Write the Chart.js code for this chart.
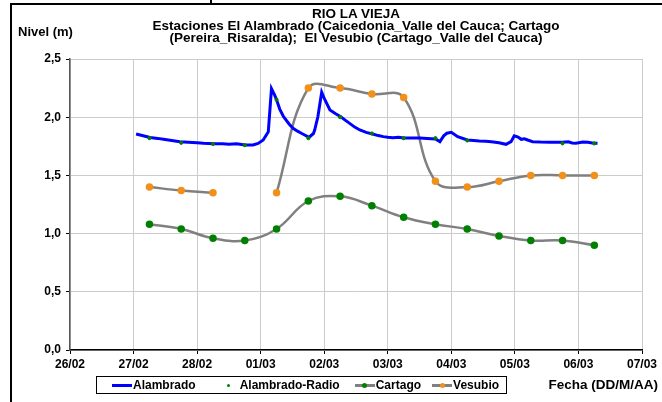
<!DOCTYPE html>
<html lang="es">

<head>
  <meta charset="UTF-8">
  <title>Rio La Vieja - Niveles</title>
  <script src="https://cdn.jsdelivr.net/npm/chart.js"></script>
  <style>
    body { margin: 0; background: #fff; }
    #wrap {
      position: relative; width: 662px; height: 402px; overflow: hidden;
      font-family: "Liberation Sans", Arial, sans-serif; font-weight: bold; color: #000;
    }
    #chart { position: absolute; left: 0; top: 0; }
    /* outer frame (only top and left edges visible) */
    #frame { position: absolute; left: 10px; top: 3px; width: 700px; height: 450px; border-top: 2px solid #000; border-left: 2px solid #000; }
    #notch { position: absolute; left: 210px; top: 0; width: 2px; height: 4px; background: #000; }
    #title { position: absolute; left: 106px; width: 500px; top: 8px; text-align: center; font-size: 13.5px; line-height: 12px; }
    #ytitle { position: absolute; left: 18px; top: 24px; font-size: 13px; }
    #xtitle { position: absolute; right: 4px; top: 377px; font-size: 13.5px; }
    #legend {
      position: absolute; left: 96px; top: 376px; width: 409px; height: 16px;
      border: 1px solid #000; display: flex; align-items: center; font-size: 12px;
    }
    .item { display: flex; align-items: center; }
    .swatch { position: relative; width: 22px; height: 10px; }
    .swatch .ln { position: absolute; left: 1px; right: 1px; top: 4px; height: 3px; }
    .swatch .pt { position: absolute; border-radius: 50%; }
  </style>
</head>

<body>
  <div id="wrap">
    <canvas id="chart" width="662" height="402"></canvas>
    <div id="frame"></div>
    <div id="notch"></div>
    <div id="title">RIO LA VIEJA<br>Estaciones El Alambrado (Caicedonia_Valle del Cauca; Cartago<br>(Pereira_Risaralda);&nbsp; El Vesubio (Cartago_Valle del Cauca)</div>
    <div id="ytitle">Nivel (m)</div>
    <div id="xtitle">Fecha (DD/M/AA)</div>
    <div id="legend"></div>
  </div>

  <script>
    // x axis: days counted from 26/02
    const tickLabels = ['26/02', '27/02', '28/02', '01/03', '02/03', '03/03', '04/03', '05/03', '06/03', '07/03'];

    // Alambrado continuous record (day, level m)
    const alambradoDias = [1.04, 1.12, 1.26, 1.38, 1.47, 1.6, 1.73, 1.86, 2.0, 2.1, 2.26, 2.4, 2.5, 2.62, 2.7, 2.75, 2.88, 2.96,
      3.04, 3.12, 3.17, 3.22, 3.25, 3.3, 3.36, 3.45, 3.51, 3.58, 3.64, 3.7, 3.76, 3.83, 3.85, 3.9, 3.96,
      4.01, 4.09, 4.18, 4.26, 4.33, 4.4, 4.48, 4.56, 4.66, 4.76, 4.85, 4.93, 5.0, 5.08, 5.17, 5.25, 5.4, 5.5, 5.62, 5.75,
      5.82, 5.88, 5.93, 6.0, 6.1, 6.25, 6.35, 6.44, 6.54, 6.63, 6.75, 6.86, 6.94, 6.99, 7.05, 7.1, 7.15, 7.2, 7.28,
      7.4, 7.55, 7.74, 7.84, 7.9, 7.96, 8.07, 8.15, 8.24, 8.3];
    const alambradoNivel = [1.856, 1.845, 1.825, 1.818, 1.81, 1.80, 1.79, 1.785, 1.781, 1.776, 1.772, 1.772, 1.768, 1.772, 1.765, 1.761, 1.761, 1.775,
      1.804, 1.875, 2.245, 2.19, 2.15, 2.07, 2.004, 1.94, 1.905, 1.88, 1.862, 1.845, 1.827, 1.86, 1.89, 2.004, 2.215,
      2.15, 2.062, 2.03, 2.004, 1.975, 1.947, 1.915, 1.89, 1.87, 1.856, 1.842, 1.833, 1.828, 1.824, 1.828, 1.821, 1.821, 1.821, 1.818, 1.813,
      1.79, 1.84, 1.862, 1.87, 1.833, 1.804, 1.80, 1.796, 1.794, 1.79, 1.78, 1.767, 1.79, 1.841, 1.83, 1.81, 1.815, 1.804, 1.79,
      1.786, 1.784, 1.784, 1.788, 1.778, 1.776, 1.786, 1.785, 1.776, 1.776];

    // twice-daily readings (06:00 / 18:00)
    const lecturaDias = [1.25, 1.75, 2.25, 2.75, 3.25, 3.75, 4.25, 4.75, 5.25, 5.75, 6.25, 6.75, 7.25, 7.75, 8.25];
    const radioNivel = [1.82, 1.78, 1.77, 1.76, 2.15, 1.82, 2.00, 1.86, 1.82, 1.82, 1.80, null, null, 1.775, 1.775];
    const cartagoNivel = [1.08, 1.04, 0.96, 0.94, 1.04, 1.28, 1.32, 1.24, 1.14, 1.08, 1.04, 0.98, 0.94, 0.94, 0.90];
    const vesubioNivel = [1.40, 1.37, 1.35, null, 1.35, 2.25, 2.25, 2.20, 2.17, 1.45, 1.40, 1.45, 1.50, 1.50, 1.50];

    const pares = (xs, ys) => xs.map((x, i) => ({ x: x, y: ys[i] }));

    const ctx = document.getElementById('chart').getContext('2d');
    const chart = new Chart(ctx, {
      type: 'line',
      data: {
        datasets: [{
          label: 'Alambrado',
          data: pares(alambradoDias, alambradoNivel),
          borderColor: '#0000ff',
          borderWidth: 3,
          pointRadius: 0,
          tension: 0,
          order: 1
        }, {
          label: 'Alambrado-Radio',
          data: pares(lecturaDias, radioNivel),
          showLine: false,
          pointRadius: 1.6,
          pointBackgroundColor: '#008000',
          pointBorderColor: '#008000',
          borderColor: '#008000',
          order: 0
        }, {
          label: 'Cartago',
          data: pares(lecturaDias, cartagoNivel),
          borderColor: '#808080',
          borderWidth: 2.5,
          tension: 0.4,
          pointRadius: 2.5,
          pointBackgroundColor: '#008000',
          pointBorderColor: '#008000',
          order: 2
        }, {
          label: 'Vesubio',
          data: pares(lecturaDias, vesubioNivel),
          borderColor: '#808080',
          borderWidth: 2.5,
          tension: 0.4,
          spanGaps: false,
          pointRadius: 2.5,
          pointBackgroundColor: '#f39019',
          pointBorderColor: '#f39019',
          order: 3
        }]
      },
      options: {
        responsive: false,
        animation: false,
        devicePixelRatio: 1,
        layout: { padding: { top: 59, right: 20, bottom: 0, left: 0 } },
        plugins: { legend: { display: false }, tooltip: { enabled: false }, title: { display: false } },
        scales: {
          x: {
            type: 'linear',
            min: 0,
            max: 9,
            afterFit: s => { s.height = 52; },
            border: { color: '#000', width: 1.5 },
            grid: { color: '#cccccc', lineWidth: 1, tickLength: 4, tickColor: '#000' },
            ticks: {
              stepSize: 1,
              autoSkip: false,
              maxRotation: 0,
              padding: 3,
              color: '#000',
              font: { family: '"Liberation Sans", Arial', size: 12, weight: 'bold' },
              callback: v => tickLabels[v]
            }
          },
          y: {
            min: 0,
            max: 2.5,
            afterFit: s => { s.width = 70; },
            border: { color: '#555', width: 1.5 },
            grid: { color: '#cccccc', lineWidth: 1, tickLength: 4, tickColor: '#000' },
            ticks: {
              stepSize: 0.5,
              padding: 5,
              color: '#000',
              font: { family: '"Liberation Sans", Arial', size: 12, weight: 'bold' },
              callback: v => v.toFixed(1).replace('.', ',')
            }
          }
        }
      }
    });

    // boxed legend under the plot, built from the datasets
    const legend = document.getElementById('legend');
    const gaps = [14, 22, 14, 10];
    chart.data.datasets.forEach((ds, i) => {
      const item = document.createElement('div');
      item.className = 'item';
      item.style.marginLeft = gaps[i] + 'px';
      const sw = document.createElement('span');
      sw.className = 'swatch';
      if (ds.showLine !== false) {
        const ln = document.createElement('span');
        ln.className = 'ln';
        ln.style.background = ds.borderColor;
        sw.appendChild(ln);
      }
      if (ds.pointRadius > 0) {
        const r = Math.max(ds.pointRadius, 1.5);
        const pt = document.createElement('span');
        pt.className = 'pt';
        pt.style.width = pt.style.height = (2 * r) + 'px';
        pt.style.left = (11 - r) + 'px';
        pt.style.top = (5.5 - r) + 'px';
        pt.style.background = ds.pointBackgroundColor;
        sw.appendChild(pt);
      }
      item.appendChild(sw);
      item.appendChild(document.createTextNode(ds.label));
      legend.appendChild(item);
    });
  </script>
</body>

</html>
